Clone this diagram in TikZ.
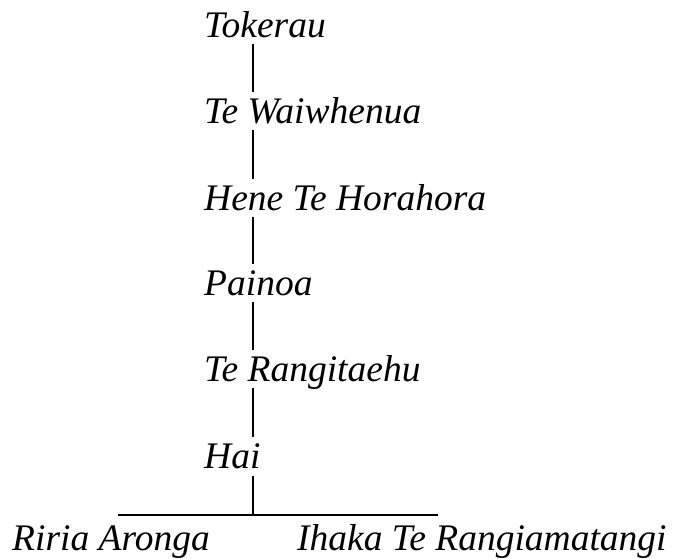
\documentclass[tikz,border=0pt]{standalone}
\usepackage{fontspec}
\setmainfont{Liberation Serif}
\begin{document}
\begin{tikzpicture}[x=1pt,y=-1pt,
  person/.style={anchor=base west,inner sep=0pt,font=\fontsize{37.5}{42}\selectfont\itshape},
  link/.style={line width=1.3pt}]
\useasboundingbox (0,0) rectangle (673,558);
\coordinate (lx) at (253,0);
\node[person] (t1) at (204,37) {Tokerau};
\node[person] (t2) at (204,123) {Te Waiwhenua};
\node[person] (t3) at (204,210) {Hene Te Horahora};
\node[person] (t4) at (204,295) {Painoa};
\node[person] (t5) at (204,381) {Te Rangitaehu};
\node[person] (t6) at (204,468) {Hai};
\node[person] (c1) at (12,550) {Riria Aronga};
\node[person] (c2) at (297,550) {Ihaka Te Rangiamatangi};
\coordinate (bl) at (118,515);
\coordinate (br) at (438,515);
\foreach \a/\b in {t1/t2,t2/t3,t3/t4,t4/t5,t5/t6}{
  \draw[link] ([yshift=-7pt]\a.base -| lx) -- ([yshift=31pt]\b.base -| lx);
}
\draw[link] ([yshift=-8pt]t6.base -| lx) -- (bl -| lx);
\draw[link] (bl) -- (br);
\end{tikzpicture}
\end{document}
